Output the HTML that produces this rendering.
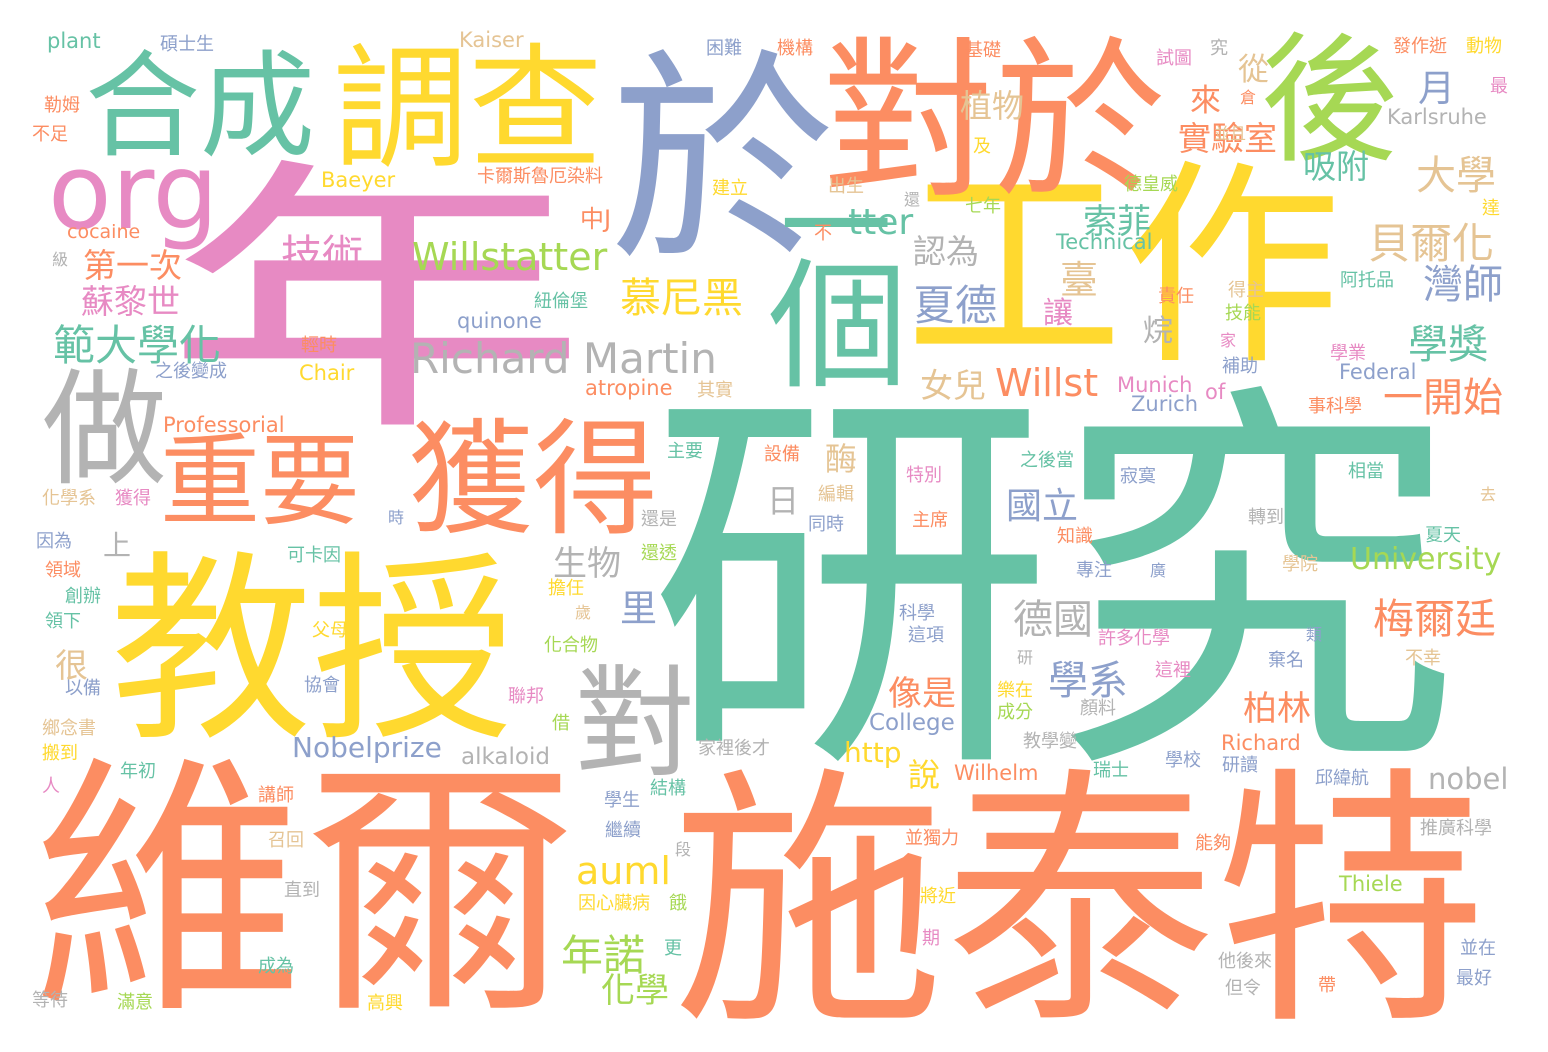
<!DOCTYPE html>
<html><head><meta charset="utf-8">
<style>
html,body{margin:0;padding:0;background:#fff;}
#cloud{position:relative;width:1548px;height:1052px;overflow:hidden;background:#fff;font-family:"DejaVu Sans","Noto Sans CJK TC",sans-serif;}
#cloud span{position:absolute;line-height:1;white-space:nowrap;}
.t{color:#66c2a5}.o{color:#fc8d62}.b{color:#8da0cb}.p{color:#e78ac3}.g{color:#a6d854}.y{color:#ffd92f}.n{color:#e5c494}.r{color:#b3b3b3}
</style></head><body>
<div id="cloud">
<span class="t" style="left:648px;top:385px;font-size:405px">研究</span>
<span class="o" style="left:32px;top:757px;font-size:272px">維爾</span>
<span class="o" style="left:672px;top:768px;font-size:272px">施泰特</span>
<span class="p" style="left:164px;top:160px;font-size:345px;transform:scale(1.23,0.83);transform-origin:0 0">年</span>
<span class="y" style="left:110px;top:550px;font-size:202px">教授</span>
<span class="y" style="left:905px;top:160px;font-size:218px">工作</span>
<span class="b" style="left:610px;top:50px;font-size:225px">於</span>
<span class="o" style="left:822px;top:36px;font-size:172px">對於</span>
<span class="g" style="left:1260px;top:32px;font-size:140px">後</span>
<span class="t" style="left:85px;top:50px;font-size:115px">合成</span>
<span class="y" style="left:333px;top:42px;font-size:135px">調查</span>
<span class="t" style="left:780px;top:172px;font-size:112px">一</span>
<span class="t" style="left:768px;top:258px;font-size:140px">個</span>
<span class="p" style="left:48px;top:140px;font-size:104px">org</span>
<span class="r" style="left:42px;top:368px;font-size:125px">做</span>
<span class="o" style="left:160px;top:432px;font-size:100px">重要</span>
<span class="o" style="left:408px;top:418px;font-size:125px">獲得</span>
<span class="r" style="left:575px;top:665px;font-size:120px">對</span>
<span class="r" style="left:410px;top:338px;font-size:42px">Richard Martin</span>
<span class="g" style="left:412px;top:238px;font-size:38px">Willstatter</span>
<span class="y" style="left:620px;top:278px;font-size:41px">慕尼黑</span>
<span class="p" style="left:281px;top:235px;font-size:41px">技術</span>
<span class="o" style="left:83px;top:249px;font-size:33px">第一次</span>
<span class="p" style="left:81px;top:285px;font-size:33px">蘇黎世</span>
<span class="t" style="left:53px;top:325px;font-size:42px">範大學化</span>
<span class="t" style="left:848px;top:205px;font-size:36px">tter</span>
<span class="o" style="left:995px;top:364px;font-size:38px">Willst</span>
<span class="b" style="left:913px;top:285px;font-size:42px">夏德</span>
<span class="r" style="left:913px;top:235px;font-size:33px">認為</span>
<span class="n" style="left:920px;top:369px;font-size:33px">女兒</span>
<span class="t" style="left:1083px;top:205px;font-size:34px">索菲</span>
<span class="n" style="left:1060px;top:261px;font-size:38px">臺</span>
<span class="p" style="left:1043px;top:299px;font-size:30px">讓</span>
<span class="n" style="left:960px;top:90px;font-size:32px">植物</span>
<span class="o" style="left:1178px;top:122px;font-size:33px">實驗室</span>
<span class="o" style="left:1190px;top:86px;font-size:31px">來</span>
<span class="n" style="left:1238px;top:55px;font-size:31px">從</span>
<span class="b" style="left:1418px;top:70px;font-size:37px">月</span>
<span class="t" style="left:1303px;top:150px;font-size:33px">吸附</span>
<span class="n" style="left:1416px;top:156px;font-size:40px">大學</span>
<span class="n" style="left:1368px;top:223px;font-size:42px">貝爾化</span>
<span class="b" style="left:1423px;top:265px;font-size:40px">灣師</span>
<span class="t" style="left:1408px;top:325px;font-size:40px">學獎</span>
<span class="o" style="left:1383px;top:378px;font-size:40px">一開始</span>
<span class="r" style="left:1143px;top:317px;font-size:30px">烷</span>
<span class="g" style="left:1350px;top:545px;font-size:30px">University</span>
<span class="o" style="left:1373px;top:599px;font-size:41px">梅爾廷</span>
<span class="b" style="left:1048px;top:661px;font-size:40px">學系</span>
<span class="o" style="left:1243px;top:692px;font-size:34px">柏林</span>
<span class="r" style="left:1013px;top:600px;font-size:40px">德國</span>
<span class="b" style="left:1006px;top:489px;font-size:36px">國立</span>
<span class="n" style="left:825px;top:443px;font-size:32px">酶</span>
<span class="r" style="left:767px;top:485px;font-size:32px">日</span>
<span class="r" style="left:553px;top:547px;font-size:34px">生物</span>
<span class="b" style="left:620px;top:590px;font-size:37px">里</span>
<span class="r" style="left:103px;top:532px;font-size:28px">上</span>
<span class="n" style="left:55px;top:649px;font-size:33px">很</span>
<span class="o" style="left:888px;top:677px;font-size:34px">像是</span>
<span class="y" style="left:908px;top:759px;font-size:32px">說</span>
<span class="y" style="left:844px;top:739px;font-size:28px">http</span>
<span class="y" style="left:576px;top:852px;font-size:38px">auml</span>
<span class="g" style="left:561px;top:935px;font-size:42px">年諾</span>
<span class="g" style="left:601px;top:974px;font-size:34px">化學</span>
<span class="b" style="left:292px;top:734px;font-size:28px">Nobelprize</span>
<span class="r" style="left:461px;top:746px;font-size:23px">alkaloid</span>
<span class="r" style="left:1428px;top:765px;font-size:29px">nobel</span>
<span class="b" style="left:869px;top:712px;font-size:23px">College</span>
<span class="o" style="left:163px;top:415px;font-size:21px">Professorial</span>
<span class="o" style="left:585px;top:378px;font-size:21px">atropine</span>
<span class="b" style="left:457px;top:311px;font-size:21px">quinone</span>
<span class="y" style="left:299px;top:363px;font-size:21px">Chair</span>
<span class="y" style="left:321px;top:170px;font-size:21px">Baeyer</span>
<span class="o" style="left:67px;top:223px;font-size:19px">cocaine</span>
<span class="t" style="left:47px;top:31px;font-size:21px">plant</span>
<span class="n" style="left:459px;top:30px;font-size:21px">Kaiser</span>
<span class="r" style="left:1387px;top:107px;font-size:21px">Karlsruhe</span>
<span class="t" style="left:1056px;top:232px;font-size:21px">Technical</span>
<span class="b" style="left:1339px;top:362px;font-size:21px">Federal</span>
<span class="p" style="left:1117px;top:375px;font-size:21px">Munich</span>
<span class="p" style="left:1205px;top:382px;font-size:21px">of</span>
<span class="b" style="left:1131px;top:394px;font-size:21px">Zurich</span>
<span class="o" style="left:1221px;top:733px;font-size:21px">Richard</span>
<span class="o" style="left:954px;top:763px;font-size:21px">Wilhelm</span>
<span class="g" style="left:1339px;top:874px;font-size:21px">Thiele</span>
<span class="b" style="left:160px;top:36px;font-size:18px">碩士生</span>
<span class="o" style="left:44px;top:97px;font-size:18px">勒姆</span>
<span class="o" style="left:32px;top:126px;font-size:18px">不足</span>
<span class="o" style="left:477px;top:168px;font-size:18px">卡爾斯魯厄染料</span>
<span class="o" style="left:580px;top:207px;font-size:24px">中J</span>
<span class="b" style="left:706px;top:40px;font-size:18px">困難</span>
<span class="o" style="left:777px;top:40px;font-size:18px">機構</span>
<span class="o" style="left:965px;top:42px;font-size:18px">基礎</span>
<span class="p" style="left:1156px;top:50px;font-size:18px">試圖</span>
<span class="r" style="left:1210px;top:40px;font-size:18px">究</span>
<span class="o" style="left:1393px;top:38px;font-size:18px">發作逝</span>
<span class="y" style="left:1466px;top:38px;font-size:18px">動物</span>
<span class="p" style="left:1490px;top:78px;font-size:18px">最</span>
<span class="o" style="left:1240px;top:90px;font-size:16px">倉</span>
<span class="n" style="left:1214px;top:126px;font-size:16px">並且</span>
<span class="y" style="left:973px;top:138px;font-size:18px">及</span>
<span class="y" style="left:712px;top:180px;font-size:18px">建立</span>
<span class="n" style="left:828px;top:178px;font-size:18px">出生</span>
<span class="r" style="left:904px;top:192px;font-size:16px">還</span>
<span class="g" style="left:965px;top:198px;font-size:18px">七年</span>
<span class="o" style="left:814px;top:225px;font-size:18px">不</span>
<span class="g" style="left:1124px;top:176px;font-size:18px">德皇威</span>
<span class="y" style="left:1482px;top:200px;font-size:18px">達</span>
<span class="r" style="left:52px;top:252px;font-size:16px">級</span>
<span class="n" style="left:1228px;top:282px;font-size:18px">得主</span>
<span class="t" style="left:1340px;top:272px;font-size:18px">阿托品</span>
<span class="o" style="left:1158px;top:288px;font-size:18px">責任</span>
<span class="g" style="left:1225px;top:305px;font-size:18px">技能</span>
<span class="p" style="left:1220px;top:333px;font-size:16px">家</span>
<span class="p" style="left:1330px;top:345px;font-size:18px">學業</span>
<span class="b" style="left:1222px;top:358px;font-size:18px">補助</span>
<span class="t" style="left:534px;top:293px;font-size:18px">紐倫堡</span>
<span class="o" style="left:301px;top:337px;font-size:18px">輕時</span>
<span class="b" style="left:155px;top:363px;font-size:18px">之後變成</span>
<span class="n" style="left:697px;top:382px;font-size:18px">其實</span>
<span class="o" style="left:1308px;top:398px;font-size:18px">事科學</span>
<span class="n" style="left:42px;top:490px;font-size:18px">化學系</span>
<span class="p" style="left:115px;top:490px;font-size:18px">獲得</span>
<span class="t" style="left:667px;top:443px;font-size:18px">主要</span>
<span class="o" style="left:764px;top:446px;font-size:18px">設備</span>
<span class="p" style="left:906px;top:467px;font-size:18px">特別</span>
<span class="t" style="left:1020px;top:452px;font-size:18px">之後當</span>
<span class="b" style="left:1120px;top:468px;font-size:18px">寂寞</span>
<span class="t" style="left:1348px;top:463px;font-size:18px">相當</span>
<span class="n" style="left:1480px;top:487px;font-size:16px">去</span>
<span class="n" style="left:818px;top:486px;font-size:18px">編輯</span>
<span class="b" style="left:388px;top:510px;font-size:16px">時</span>
<span class="r" style="left:641px;top:511px;font-size:18px">還是</span>
<span class="o" style="left:912px;top:512px;font-size:18px">主席</span>
<span class="b" style="left:808px;top:516px;font-size:18px">同時</span>
<span class="r" style="left:1248px;top:509px;font-size:18px">轉到</span>
<span class="t" style="left:1425px;top:527px;font-size:18px">夏天</span>
<span class="b" style="left:36px;top:533px;font-size:18px">因為</span>
<span class="t" style="left:287px;top:547px;font-size:18px">可卡因</span>
<span class="g" style="left:641px;top:545px;font-size:18px">還透</span>
<span class="o" style="left:1057px;top:528px;font-size:18px">知識</span>
<span class="b" style="left:1076px;top:562px;font-size:18px">專注</span>
<span class="b" style="left:1150px;top:563px;font-size:16px">廣</span>
<span class="n" style="left:1282px;top:556px;font-size:18px">學院</span>
<span class="o" style="left:45px;top:562px;font-size:18px">領域</span>
<span class="t" style="left:65px;top:588px;font-size:18px">創辦</span>
<span class="t" style="left:45px;top:613px;font-size:18px">領下</span>
<span class="y" style="left:548px;top:580px;font-size:18px">擔任</span>
<span class="n" style="left:575px;top:605px;font-size:16px">歲</span>
<span class="y" style="left:312px;top:622px;font-size:18px">父母</span>
<span class="b" style="left:899px;top:605px;font-size:18px">科學</span>
<span class="b" style="left:908px;top:627px;font-size:18px">這項</span>
<span class="p" style="left:1098px;top:630px;font-size:18px">許多化學</span>
<span class="b" style="left:1306px;top:627px;font-size:16px">類</span>
<span class="g" style="left:544px;top:637px;font-size:18px">化合物</span>
<span class="r" style="left:1017px;top:650px;font-size:16px">研</span>
<span class="b" style="left:1268px;top:652px;font-size:18px">棄名</span>
<span class="n" style="left:1405px;top:650px;font-size:18px">不幸</span>
<span class="p" style="left:1155px;top:662px;font-size:18px">這裡</span>
<span class="b" style="left:65px;top:680px;font-size:18px">以備</span>
<span class="b" style="left:304px;top:677px;font-size:18px">協會</span>
<span class="p" style="left:508px;top:688px;font-size:18px">聯邦</span>
<span class="y" style="left:997px;top:682px;font-size:18px">樂在</span>
<span class="g" style="left:997px;top:704px;font-size:18px">成分</span>
<span class="r" style="left:1080px;top:700px;font-size:18px">顏料</span>
<span class="g" style="left:552px;top:715px;font-size:18px">借</span>
<span class="n" style="left:42px;top:720px;font-size:18px">鄉念書</span>
<span class="y" style="left:42px;top:745px;font-size:18px">搬到</span>
<span class="r" style="left:698px;top:740px;font-size:18px">家裡後才</span>
<span class="r" style="left:1023px;top:733px;font-size:18px">教學變</span>
<span class="b" style="left:1222px;top:757px;font-size:18px">研讀</span>
<span class="t" style="left:1093px;top:762px;font-size:18px">瑞士</span>
<span class="b" style="left:1165px;top:752px;font-size:18px">學校</span>
<span class="t" style="left:120px;top:763px;font-size:18px">年初</span>
<span class="p" style="left:42px;top:778px;font-size:18px">人</span>
<span class="b" style="left:1315px;top:770px;font-size:18px">邱緯航</span>
<span class="o" style="left:258px;top:787px;font-size:18px">講師</span>
<span class="t" style="left:650px;top:780px;font-size:18px">結構</span>
<span class="b" style="left:604px;top:792px;font-size:18px">學生</span>
<span class="r" style="left:1420px;top:820px;font-size:18px">推廣科學</span>
<span class="o" style="left:905px;top:830px;font-size:18px">並獨力</span>
<span class="b" style="left:605px;top:822px;font-size:18px">繼續</span>
<span class="r" style="left:675px;top:842px;font-size:16px">段</span>
<span class="o" style="left:1195px;top:835px;font-size:18px">能夠</span>
<span class="n" style="left:268px;top:832px;font-size:18px">召回</span>
<span class="r" style="left:284px;top:882px;font-size:18px">直到</span>
<span class="y" style="left:578px;top:895px;font-size:18px">因心臟病</span>
<span class="g" style="left:669px;top:895px;font-size:18px">餓</span>
<span class="y" style="left:920px;top:888px;font-size:18px">將近</span>
<span class="p" style="left:922px;top:930px;font-size:18px">期</span>
<span class="t" style="left:664px;top:940px;font-size:18px">更</span>
<span class="b" style="left:1460px;top:940px;font-size:18px">並在</span>
<span class="t" style="left:258px;top:958px;font-size:18px">成為</span>
<span class="r" style="left:1218px;top:953px;font-size:18px">他後來</span>
<span class="b" style="left:1456px;top:970px;font-size:18px">最好</span>
<span class="o" style="left:1318px;top:977px;font-size:18px">帶</span>
<span class="r" style="left:1225px;top:980px;font-size:18px">但令</span>
<span class="r" style="left:32px;top:992px;font-size:18px">等待</span>
<span class="g" style="left:117px;top:994px;font-size:18px">滿意</span>
<span class="y" style="left:367px;top:995px;font-size:18px">高興</span>
</div>
</body></html>
